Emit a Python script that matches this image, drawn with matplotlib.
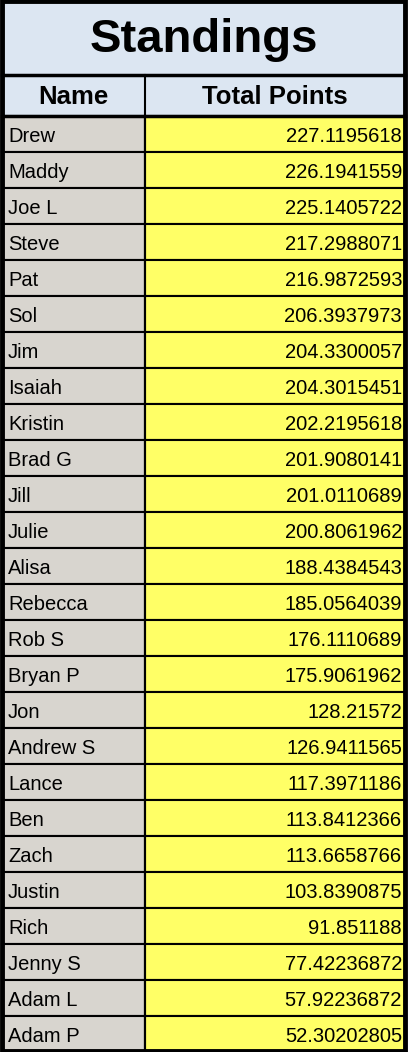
import matplotlib
matplotlib.use("Agg")
import matplotlib.pyplot as plt
from matplotlib.patches import Rectangle

title = "Standings"
headers = ["Name", "Total Points"]
names = ["Drew","Maddy","Joe L","Steve","Pat","Sol","Jim","Isaiah","Kristin","Brad G","Jill","Julie","Alisa","Rebecca","Rob S","Bryan P","Jon","Andrew S","Lance","Ben","Zach","Justin","Rich","Jenny S","Adam L","Adam P"]
points = ["227.1195618","226.1941559","225.1405722","217.2988071","216.9872593","206.3937973","204.3300057","204.3015451","202.2195618","201.9080141","201.0110689","200.8061962","188.4384543","185.0564039","176.1110689","175.9061962","128.21572","126.9411565","117.3971186","113.8412366","113.6658766","103.8390875","91.851188","77.42236872","57.92236872","52.30202805"]

W, H = 408, 1052
fig = plt.figure(figsize=(W/100, H/100), dpi=100)
ax = fig.add_axes([0, 0, 1, 1])
ax.set_xlim(0, W); ax.set_ylim(H, 0); ax.axis("off")
plt.rcParams['font.family'] = ['Liberation Sans', 'DejaVu Sans']

blue = "#dce6f2"; gray = "#d8d5cf"; yellow = "#ffff66"
L, R, split = 2, 405, 145
title_bot, head_bot = 75, 116
rh = (H - head_bot) / len(names)

ax.add_patch(Rectangle((L, 0), R-L, head_bot, fc=blue, ec="none"))
ax.text((L+R)/2, title_bot/2+3, title, ha="center", va="center", fontsize=34, fontweight="bold")
ax.text((L+split)/2, (title_bot+head_bot)/2+1, headers[0], ha="center", va="center", fontsize=18.5, fontweight="bold")
ax.text((split+R)/2, (title_bot+head_bot)/2+1, headers[1], ha="center", va="center", fontsize=18.5, fontweight="bold")
for i, (n, p) in enumerate(zip(names, points)):
    y0 = head_bot + i*rh
    ax.add_patch(Rectangle((L, y0), split-L, rh, fc=gray, ec="black", lw=1.5))
    ax.add_patch(Rectangle((split, y0), R-split, rh, fc=yellow, ec="black", lw=1.5))
    ax.text(L+6, y0+rh/2+2, n, ha="left", va="center", fontsize=14.5)
    ax.text(R-3, y0+rh/2+2, p, ha="right", va="center", fontsize=14.5)
lw = 2.5
ax.plot([L, R], [title_bot, title_bot], color="black", lw=lw)
ax.plot([L, R], [head_bot, head_bot], color="black", lw=lw)
ax.plot([split, split], [title_bot, H], color="black", lw=1.5)
ax.add_patch(Rectangle((L, 1), R-L, H-2, fc="none", ec="black", lw=3.5))
fig.savefig("out.png", dpi=100)
